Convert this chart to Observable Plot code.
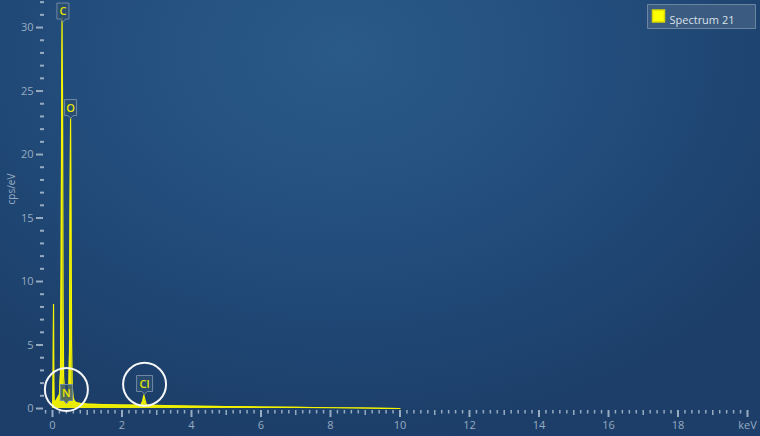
<!DOCTYPE html>
<html>
<head>
<meta charset="utf-8">
<script src="https://cdn.jsdelivr.net/npm/d3@7"></script>
<script src="https://cdn.jsdelivr.net/npm/@observablehq/plot@0.6"></script>
<style>
  html, body { margin: 0; padding: 0; background: #1d3f69; }
  #chart { width: 760px; height: 436px; overflow: hidden; }
  svg { display: block; }
</style>
</head>
<body>
<div id="chart"></div>
<script>
// Spectrum (keV, cps/eV)
const energy = [0.00, 0.01, 0.02, 0.03, 0.04, 0.05, 0.08, 0.12, 0.16, 0.20, 0.23, 0.25, 0.265, 0.275, 0.29, 0.305, 0.32, 0.35, 0.38, 0.41, 0.44, 0.47, 0.49, 0.505, 0.52, 0.535, 0.55, 0.57, 0.60, 0.64, 0.70, 0.80, 1.00, 1.20, 1.50, 2.00, 2.40, 2.55, 2.60, 2.63, 2.66, 2.70, 2.80, 3.00, 3.50, 4.00, 5.00, 6.00, 7.00, 8.00, 9.00, 9.50, 10.00];
const counts = [0.1, 0.6, 3.2, 8.2, 2.2, 0.6, 0.5, 0.7, 0.9, 1.1, 2.8, 11, 25, 30.8, 24, 9, 2.5, 1.4, 1.2, 1.3, 1.25, 1.4, 4.5, 15, 22.9, 16, 5, 1.6, 0.8, 0.55, 0.45, 0.4, 0.35, 0.33, 0.3, 0.27, 0.26, 0.3, 0.6, 1.05, 0.7, 0.3, 0.25, 0.24, 0.21, 0.18, 0.15, 0.12, 0.09, 0.06, 0.03, 0.015, 0.0];

// Element labels
const elements = ["C", "O", "N", "Cl"];
const elementEnergy = [0.30, 0.52, 0.40, 2.65];
const elementLabelY = [31.3, 23.7, 1.26, 1.97];
const circledEnergy = [0.40, 2.65];
const circledY = [1.5, 1.9];

// Axis ticks
const xMajor = [0, 2, 4, 6, 8, 10, 12, 14, 16, 18, 20];
const xMid = [1, 3, 5, 7, 9, 11, 13, 15, 17, 19];
const xMinor = [-0.2, ...d3.range(0, 100).map(i => +(i * 0.2).toFixed(1)).filter(v => Math.abs(v - Math.round(v)) > 0.01)];
const yMajor = [0, 5, 10, 15, 20, 25, 30];
const yMinor = [1,2,3,4,6,7,8,9,11,12,13,14,16,17,18,19,21,22,23,24,26,27,28,29,31,32];
const legendName = "Spectrum 21";

const spectrum = energy.map((e, i) => ({e, c: counts[i]}));
const labels = elements.map((el, i) => ({el, e: elementEnergy[i], y: elementLabelY[i]}));
const circles = circledEnergy.map((e, i) => ({e, y: circledY[i]}));

const yellow = "#f4f400";
const axisColor = "#97abc1";
const font = "'Open Sans', 'Noto Sans', sans-serif";

function boxSymbol(w, h, pointer) {
  return {
    draw(ctx) {
      const x0 = -w / 2, x1 = w / 2, y0 = -h / 2, y1 = h / 2;
      ctx.moveTo(x0, y0);
      ctx.lineTo(x1, y0);
      ctx.lineTo(x1, y1);
      if (pointer) {
        ctx.lineTo(2.5, y1);
        ctx.lineTo(0, y1 + 3);
        ctx.lineTo(-2.5, y1);
      }
      ctx.lineTo(x0, y1);
      ctx.closePath();
    }
  };
}

const labelMarks = labels.flatMap(d => {
  const w = d.el.length > 1 ? 16 : 12;
  return [
    Plot.dot([d], {x: "e", y: "y", symbol: boxSymbol(w, 16, true), fill: "#2d4d70", fillOpacity: 0.8, stroke: "#6f8aa6", strokeWidth: 1}),
    Plot.text([d], {x: "e", y: "y", text: "el", fill: "#e6e600", fontSize: 11, fontWeight: 600, fontFamily: font, dy: 0.5})
  ];
});

const plot = Plot.plot({
  width: 760,
  height: 436,
  marginLeft: 44,
  marginRight: 13,
  marginTop: 0,
  marginBottom: 28,
  x: {domain: [-0.23, 20]},
  y: {domain: [0, 32.13]},
  style: {
    background: "radial-gradient(ellipse 70% 90% at 45% 12%, #2a5a88 0%, #24507f 40%, #1f4572 75%, #1c3e68 100%)",
    fontFamily: font,
    overflow: "visible"
  },
  marks: [
    // y axis
    Plot.axisY({ticks: yMajor, tickSize: 7, tickPadding: 3, stroke: axisColor, strokeWidth: 2, fill: axisColor, fontSize: 11, label: null, dx: -1}),
    Plot.axisY({ticks: yMinor, tickSize: 4, tickFormat: () => "", stroke: axisColor, strokeWidth: 2, label: null, dx: 0}),
    Plot.text(["cps/eV"], {frameAnchor: "left", rotate: -90, dx: -33, fill: axisColor, fontSize: 10, fontFamily: font}),
    // x axis
    Plot.axisX({ticks: xMajor, tickSize: 7, tickPadding: 4, stroke: axisColor, strokeWidth: 2, fill: axisColor, fontSize: 11, label: null, dy: 2, tickFormat: d => d === 20 ? "keV" : d}),
    Plot.axisX({ticks: xMid, tickSize: 5, tickFormat: () => "", stroke: axisColor, strokeWidth: 1.5, label: null, dy: 2}),
    Plot.axisX({ticks: xMinor, tickSize: 3.5, tickFormat: () => "", stroke: axisColor, strokeWidth: 1.5, label: null, dy: 2}),
    // spectrum
    Plot.areaY(spectrum, {x: "e", y: "c", fill: yellow, fillOpacity: 0.95}),
    Plot.lineY(spectrum, {x: "e", y: "c", stroke: yellow, strokeWidth: 1.2}),
    // element labels
    ...labelMarks,
    // circles
    Plot.dot(circles, {x: "e", y: "y", r: 21.5, stroke: "#f4f6f8", strokeWidth: 2, fill: "none"}),
    // legend
    Plot.dot([0], {frameAnchor: "top-right", dx: -46, dy: 16, symbol: boxSymbol(108, 24, false), fill: "#3b5b80", stroke: "#6c86a2", strokeWidth: 1}),
    Plot.dot([0], {frameAnchor: "top-right", dx: -89, dy: 15.5, symbol: boxSymbol(12, 12, false), fill: "#ffff00", stroke: "#d8d800"}),
    Plot.text([legendName], {frameAnchor: "top-right", dx: -78, dy: 16, textAnchor: "start", fill: "#d9e0e8", fontSize: 11, fontFamily: font})
  ]
});
document.getElementById("chart").appendChild(plot);
</script>
</body>
</html>
